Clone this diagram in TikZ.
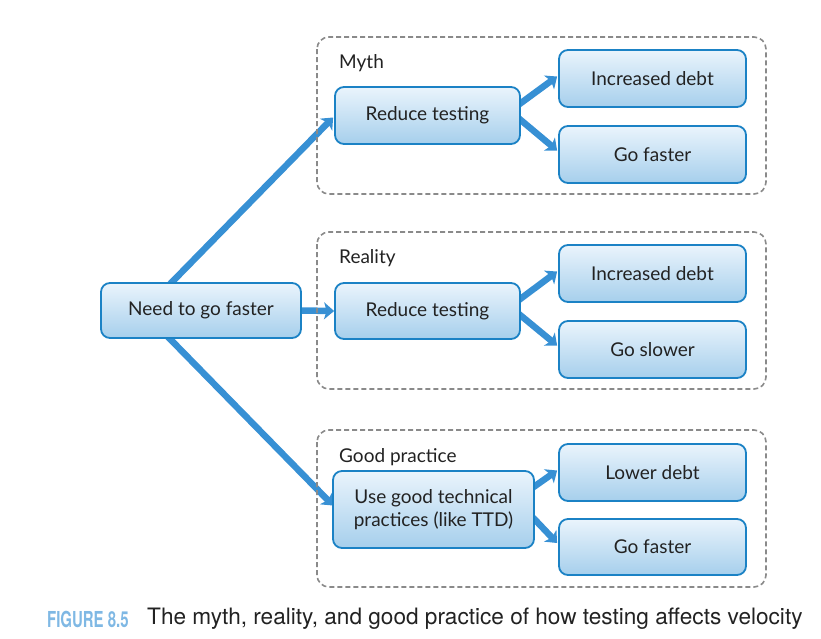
\documentclass[tikz,border=0pt]{standalone}
\usepackage{fontspec}
\setmainfont{Lato}
\newfontfamily\capfont{TeX Gyre Heros}
\newfontfamily\capnarrow{TeX Gyre Heros}[FakeStretch=0.68]
\usetikzlibrary{arrows.meta,calc,backgrounds}
\definecolor{bord}{HTML}{1B82C5}
\definecolor{ftop}{HTML}{EAF4FC}
\definecolor{fbot}{HTML}{A6CFEC}
\definecolor{arr}{HTML}{3790D4}
\definecolor{dash}{HTML}{8A8A8A}
\definecolor{capblue}{HTML}{7FB8E4}
\definecolor{txt}{HTML}{222222}
\tikzset{
  boxnode/.style={draw=bord,line width=1.8pt,rounded corners=9pt,top color=ftop,bottom color=fbot,
    text=txt,font=\fontsize{19}{23}\selectfont,align=center,inner sep=0pt},
  groupbox/.style={draw=dash,line width=1.6pt,dash pattern=on 5pt off 3pt,rounded corners=12pt},
  grouplabel/.style={anchor=west,text=txt,font=\fontsize{19}{23}\selectfont,inner sep=0pt},
  bigarrow/.style={draw=arr,line width=6.5pt,-{Stealth[width=17pt,length=10pt,inset=2.5pt]}},
}
\begin{document}
\begin{tikzpicture}[x=1pt,y=-1pt]
\useasboundingbox (0,0) rectangle (821,638);
% group boxes
\draw[groupbox] (317,37) rectangle (766,194);
\draw[groupbox] (317,232) rectangle (766,389);
\draw[groupbox] (317,430) rectangle (766,587);
\node[grouplabel] (lmyth) at (339,63) {Myth};
\node[grouplabel] (lreal) at (339,258) {Reality};
\node[grouplabel] (lgood) at (339,457) {Good practice};
% nodes
\node[boxnode,minimum width=200pt,minimum height=55pt] (need) at (201,310.5) {Need to go faster};
\node[boxnode,minimum width=185pt,minimum height=57pt] (rt1) at (427.5,115.5) {Reduce testing};
\node[boxnode,minimum width=187pt,minimum height=57pt] (id1) at (652.5,78.5) {Increased debt};
\node[boxnode,minimum width=187pt,minimum height=57pt] (gf1) at (652.5,154.5) {Go faster};
\node[boxnode,minimum width=185pt,minimum height=56pt] (rt2) at (427.5,311) {Reduce testing};
\node[boxnode,minimum width=187pt,minimum height=57pt] (id2) at (652.5,273.5) {Increased debt};
\node[boxnode,minimum width=187pt,minimum height=57pt] (gs2) at (652.5,349.5) {Go slower};
\node[boxnode,minimum width=201pt,minimum height=77pt] (gp) at (433.5,509.5) {Use good technical\\practices (like TTD)};
\node[boxnode,minimum width=187pt,minimum height=57pt] (ld3) at (652.5,472.5) {Lower debt};
\node[boxnode,minimum width=187pt,minimum height=56pt] (gf3) at (652.5,547) {Go faster};
% arrows
\begin{scope}[on background layer]
\draw[bigarrow] ($(need.north)+(-31,2)$) -- ($(rt1.west)+(-1,2)$);
\draw[bigarrow] (need.east) -- (rt2.west);
\draw[bigarrow] ($(need.south)+(-33,-2)$) -- ($(gp.west)+(1,-4)$);
\draw[bigarrow] ($(rt1.east)+(-2,-11)$) -- ($(id1.west)+(-1,-2)$);
\draw[bigarrow] ($(rt1.east)+(-2,3)$) -- ($(gf1.west)+(-1,-4)$);
\draw[bigarrow] ($(rt2.east)+(-2,-11)$) -- ($(id2.west)+(-1,-2)$);
\draw[bigarrow] ($(rt2.east)+(-2,3)$) -- ($(gs2.west)+(-1,-4)$);
\draw[bigarrow] ($(gp.east)+(-2,-22)$) -- ($(ld3.west)+(-1,-2)$);
\draw[bigarrow] ($(gp.east)+(-2,8)$) -- ($(gf3.west)+(-1,-4)$);
\end{scope}
% caption
\node[anchor=west,inner sep=0pt,text=capblue,font=\capnarrow\bfseries\fontsize{22}{26}\selectfont] (figno) at (47,619) {FIGURE 8.5};
\node[anchor=west,inner sep=0pt,text=txt,font=\capfont\fontsize{22.6}{26}\selectfont] (cap) at (147,619) {The myth, reality, and good practice of how testing affects velocity};
\end{tikzpicture}
\end{document}
